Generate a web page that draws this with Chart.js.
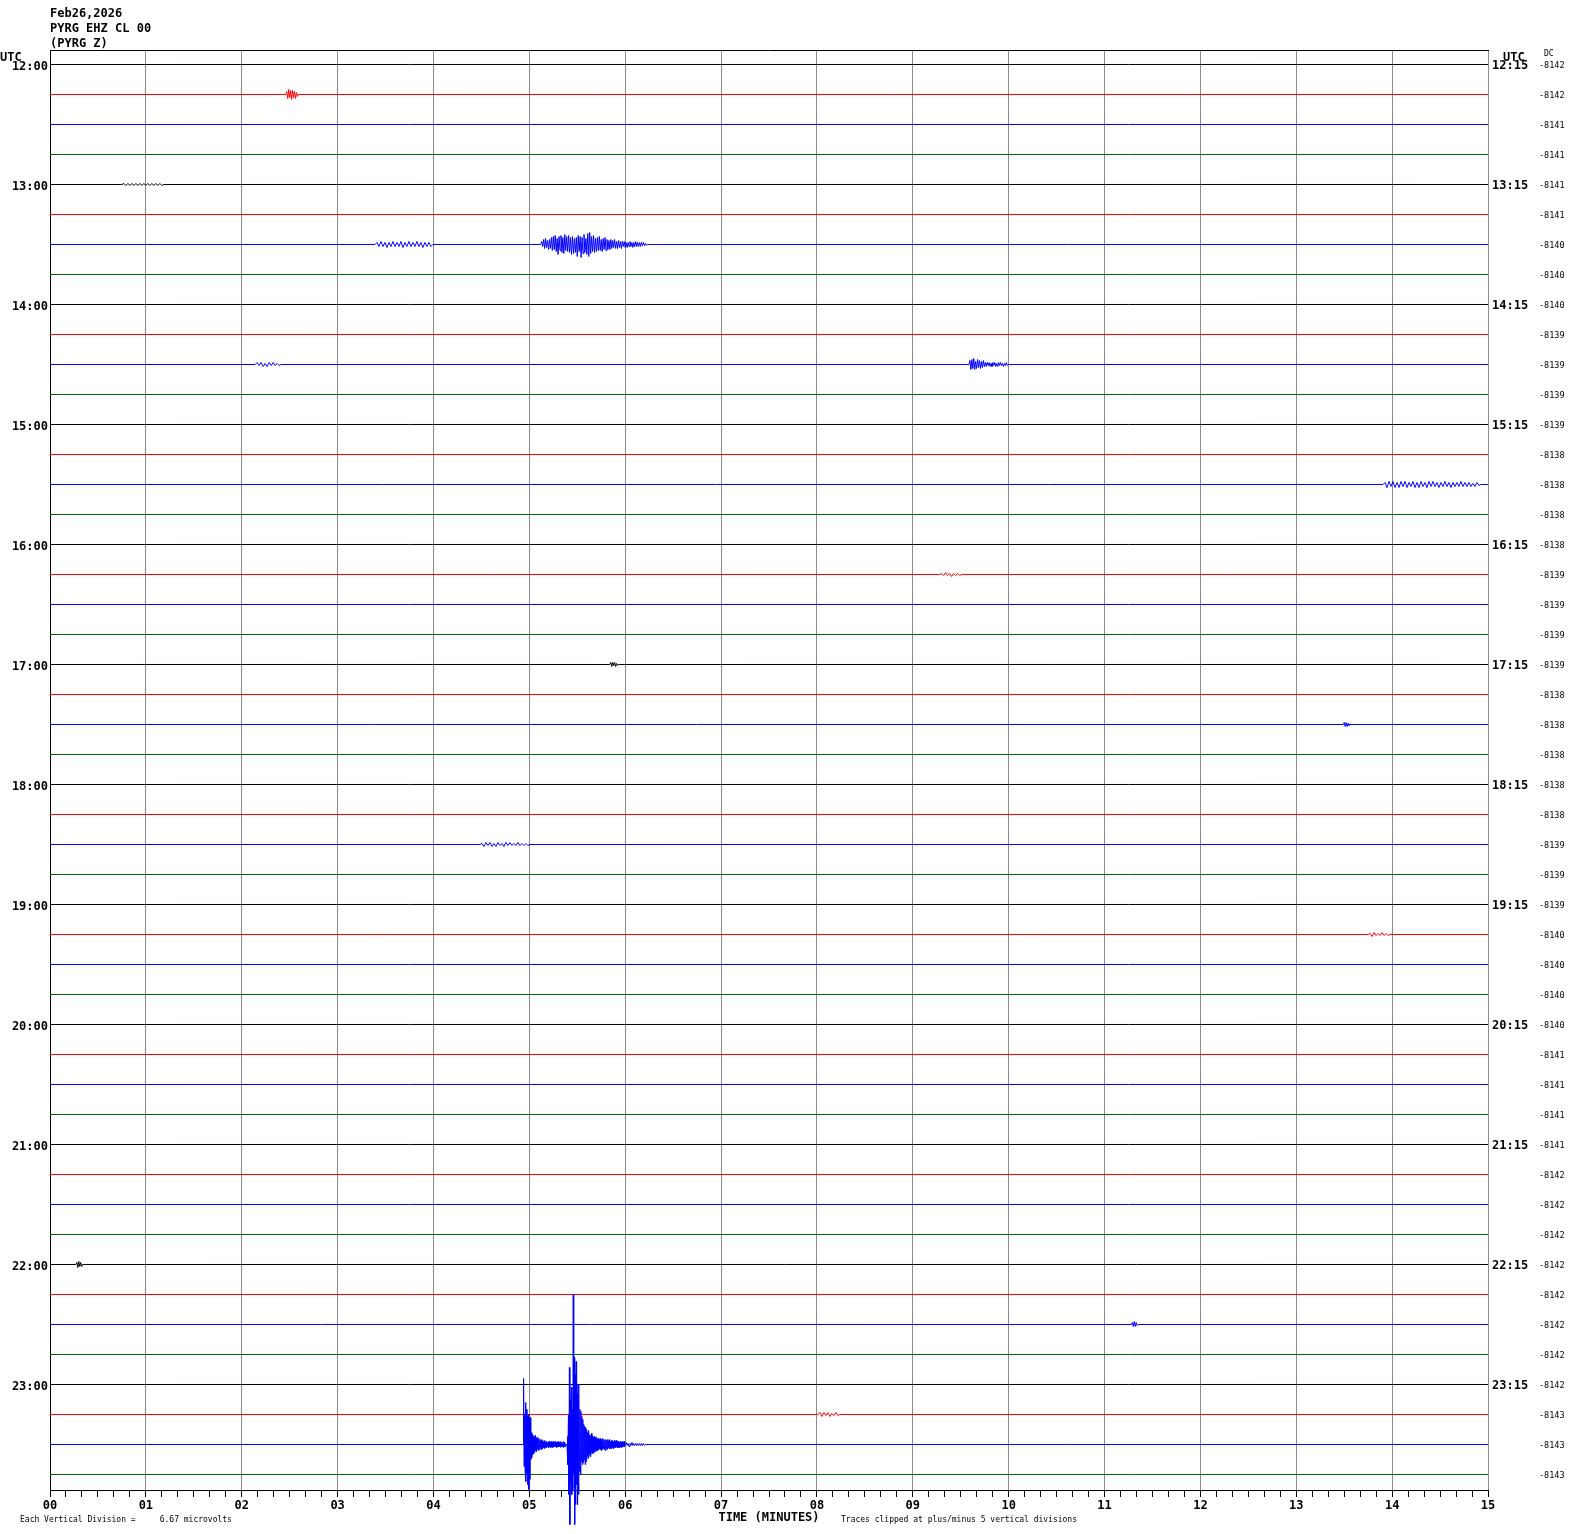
<!DOCTYPE html>
<html><head><meta charset="utf-8">
<script src="https://cdn.jsdelivr.net/npm/chart.js@4.4.1/dist/chart.umd.min.js"></script>
<style>
html,body{margin:0;padding:0;background:#fff;}
#wrap{position:relative;width:1570px;height:1534px;overflow:hidden;background:#fff;}
canvas{position:absolute;left:0;top:0;}
.t{position:absolute;font-family:'DejaVu Sans Mono',monospace;color:#000;white-space:pre;line-height:1;}
.b{font-weight:bold;font-size:12px;}
.s{font-size:8px;}
</style></head><body>
<div id="wrap">
<canvas id="c" width="1570" height="1534"></canvas>
<div class="t b" style="left:50px;top:7px">Feb26,2026</div>
<div class="t b" style="left:50px;top:22px">PYRG EHZ CL 00</div>
<div class="t b" style="left:50px;top:37px">(PYRG Z)</div>
<div class="t b" style="left:0px;top:51px">UTC</div>
<div class="t b" style="left:1503px;top:51px">UTC</div>
<div class="t s" style="left:1544px;top:50px">DC</div>
<div class="t s" style="left:20px;top:1516px">Each Vertical Division =     6.67 microvolts</div>
<div class="t s" style="left:841px;top:1516px">Traces clipped at plus/minus 5 vertical divisions</div>
</div>
<script>
// ---------------- DATA ----------------
const minuteLabels = ['00','01','02','03','04','05','06','07','08','09','10','11','12','13','14','15'];
const leftTimeLabels = ['12:00','13:00','14:00','15:00','16:00','17:00','18:00','19:00','20:00','21:00','22:00','23:00'];
const rightTimeLabels = ['12:15','13:15','14:15','15:15','16:15','17:15','18:15','19:15','20:15','21:15','22:15','23:15'];
const dcOffsets = [
  -8142,-8142,-8141,-8141, -8141,-8141,-8140,-8140, -8140,-8139,-8139,-8139,
  -8139,-8138,-8138,-8138, -8138,-8139,-8139,-8139, -8139,-8138,-8138,-8138,
  -8138,-8138,-8139,-8139, -8139,-8140,-8140,-8140, -8140,-8141,-8141,-8141,
  -8141,-8142,-8142,-8142, -8142,-8142,-8142,-8142, -8142,-8143,-8143,-8143
];
const COUNTS_PER_DIVISION = 30;
const CLIP_DIVISIONS = 5;

// event amplitudes (counts, up positive)
const ev1215 = [3,-4,5,-3,4,-5,4,-3,3,-4,2,-2];
const ev1300 = [1,-1,1,-1,1,-1,1,-1,1,-1,1,-1,1,-1,1,-1,1,-1,1,-1];
const ev1330a = [2,-2,3,-2,2,-3,2,-2,3,-2,2,-2,3,-3,2,-2,3,-2,2,-2,3,-2,2,-3,2,-2,2,-2];
const ev1330b = [
  3,-2,5,-4,6,-3,4,-5,5,-4,
  7,-6,8,-5,9,-7,6,-10,8,-6,
  9,-8,7,-9,10,-6,8,-7,9,-8,
  7,-10,8,-9,6,-8,7,-12,9,-7,
  8,-13,7,-9,10,-8,6,-10,11,-12,
  12,-9,8,-7,9,-8,6,-7,7,-6,
  8,-6,5,-7,6,-5,7,-6,5,-5,
  4,-5,5,-4,4,-3,5,-4,3,-4,
  4,-3,3,-4,3,-2,3,-3,2,-3,
  2,-2,3,-2,2,-3,2,-2,3,-2,
  2,-2,2,-2,2,-1,2,-1,1,-1
];
const ev1430a = [2,-1,2,-2,1,-2,2,-1,2,-1,1,-1];
const ev1430b = [4,-5,5,-4,6,-5,3,-4,5,-3,4,-4,3,-3,4,
  -2,2,-2,2,-1,2,-2,1,-2,2,-1,2,-2,1,-2,2,-1,2,-1,1,-2,1,-1,2,-1];
const ev1530 = [2,-3,3,-2,3,-3,2,-3,3,-2,3,-3,2,-2,3,-3,2,-3,3,-2,2,-3,3,-2,3,-2,2,-3,2,-2,3,-2,2,-3,2,-2,2,-2,3,-2,2,-2,2,-2,1,-2,2,-1];
const ev1615 = [1,-1,2,-1,1,-2,1,-1,1,-1];
const ev1700 = [2,-2,2,-1,2,-2,1,-1];
const ev1730 = [2,-2,2,-2,1,-1];
const ev1830 = [1,-2,2,-1,2,-2,1,-2,2,-1,1,-2,2,-1,2,-1,1,-1,2,-1,1,-1,1,-1];
const ev1915 = [1,-2,2,-1,1,-1,2,-1,1,-1];
const ev2200 = [2,-3,3,-2,2,-2];
const ev2230 = [2,-2,3,-2,2,-1];
const ev2315 = [2,-2,2,-1,2,-2,1,-1,2,-1];
const ev2330a = [
  66,-22,30,-25,42,-37,35,-30,28,-40,30,-45,25,-35,27,-15,12,-13,10,-10,
  8,-9,7,-8,9,-6,6,-7,7,-5,5,-6,6,-5,5,-4,4,-5,5,-4,
  4,-3,3,-4,4,-3,3,-3,3,-2,2,-3,3,-3,3,-2,2,-3,3,-2,
  2,-3,3,-2,2,-2,3,-2,2,-3,2,-2,3,-2,2,-2,2,-3,3,-2,2,-2,2,-3,3,-2,2,-2
];
const ev2330b = [
  8,-20,30,-50,77,-80,45,-40,57,-50,35,-45,150,-30,87,-80,70,-60,83,-40,
  50,-60,60,-50,47,-27,35,-30,33,-17,28,-20,25,-18,20,-15,18,-20,17,-17,
  15,-12,12,-14,14,-10,10,-12,9,-10,11,-8,8,-9,7,-8,8,-6,6,-7,
  7,-5,5,-6,6,-5,5,-4,6,-5,5,-6,4,-5,6,-4,5,-5,4,-6,
  5,-4,4,-5,5,-3,4,-4,5,-4,3,-4,4,-3,4,-4,3,-3,4,-3,
  3,-3,4,-2,3,-3,3,-3,2,-3,3,-2,2,-3,3,-2,2,-2,3,-2
];
const ev2330c = [2,-1,1,-2,1,-1,2,-1,1,-1,1,-1,1,-1,1,-1,1,-1,1,-1];

// trace index, start (minutes), sample interval (seconds), amplitudes
const events = [
  {trace:1,  start:2.46,  step:0.6,  amps:ev1215},
  {trace:4,  start:0.75,  step:1.25, amps:ev1300},
  {trace:6,  start:3.39,  step:1.25, amps:ev1330a},
  {trace:6,  start:5.12,  step:0.6,  amps:ev1330b},
  {trace:10, start:2.14,  step:1.25, amps:ev1430a},
  {trace:10, start:9.586, step:0.6,  amps:ev1430b},
  {trace:14, start:13.905,step:1.25, amps:ev1530},
  {trace:17, start:9.28,  step:1.25, amps:ev1615},
  {trace:20, start:5.84,  step:0.6,  amps:ev1700},
  {trace:22, start:13.49, step:0.6,  amps:ev1730},
  {trace:26, start:4.485, step:1.25, amps:ev1830},
  {trace:29, start:13.75, step:1.25, amps:ev1915},
  {trace:40, start:0.27,  step:0.6,  amps:ev2200},
  {trace:42, start:11.28, step:0.6,  amps:ev2230},
  {trace:45, start:8.01,  step:1.25, amps:ev2315},
  {trace:46, start:4.935, step:0.3,  amps:ev2330a},
  {trace:46, start:5.393, step:0.3,  amps:ev2330b},
  {trace:46, start:6.0,   step:0.6,  amps:ev2330c}
];

// ---------------- BUILD ----------------
const traceColors = ['#000000','#ff0000','#0000ff','#006400'];
const clipCounts = CLIP_DIVISIONS * COUNTS_PER_DIVISION;
function buildTrace(i){
  const pts = [{x:0, y:i}];
  events.filter(e => e.trace === i).sort((a,b) => a.start - b.start).forEach(e => {
    pts.push({x:e.start, y:i});
    e.amps.forEach((a,k) => {
      const c = Math.max(-clipCounts, Math.min(clipCounts, a));
      pts.push({x:e.start + (k+1)*e.step/60, y:i - c/COUNTS_PER_DIVISION});
    });
    pts.push({x:e.start + (e.amps.length+1)*e.step/60, y:i});
  });
  pts.push({x:15, y:i});
  return pts;
}
function maxAmp(i){
  let m = 0;
  events.forEach(e => { if (e.trace === i) e.amps.forEach(a => { m = Math.max(m, Math.abs(a)); }); });
  return m;
}
const datasets = dcOffsets.map((_, i) => ({
  data: buildTrace(i),
  borderColor: traceColors[i % 4],
  borderWidth: 1,
  pointRadius: 0,
  tension: 0,
  fill: false,
  clip: false,
  order: -maxAmp(i),
  xAxisID: 'x',
  yAxisID: 'y'
}));

const boldFont = {family:'DejaVu Sans Mono', size:12, weight:'bold'};
const isWhole = v => Math.abs(v - Math.round(v)) < 1e-6;
// 48 rows in a 1440px-high plot; half-pixel shift keeps each trace on a pixel row
const yRange = {min:-0.4833, max: dcOffsets.length - 0.4833, reverse:true};
const traceTicks = scale => { scale.ticks = dcOffsets.map((_, i) => ({value:i})); };

new Chart(document.getElementById('c'), {
  type: 'line',
  data: {datasets},
  options: {
    responsive: false,
    animation: false,
    events: [],
    parsing: false,
    layout: {padding: {top:50, left:0, right:0, bottom:0}},
    plugins: {legend:{display:false}, tooltip:{enabled:false}, title:{display:false}},
    scales: {
      x: {
        type:'linear', position:'bottom', min:0, max:15,
        afterBuildTicks: scale => {
          const t = [];
          for (let k = 0; k <= 90; k++) t.push({value:k/6});
          scale.ticks = t;
        },
        afterFit: scale => { scale.height = 44; },
        ticks: {
          autoSkip:false, maxRotation:0, minRotation:0, padding:2, color:'#000', font:boldFont,
          callback: v => isWhole(v) ? minuteLabels[Math.round(v)] : ''
        },
        grid: {
          drawOnChartArea:true, drawTicks:true, tickLength:7, lineWidth:1,
          color: ctx => (ctx.tick && isWhole(ctx.tick.value)) ? '#8c8c8c' : 'rgba(0,0,0,0)',
          tickColor:'#000'
        },
        border: {display:true, color:'#000', width:1},
        title: {display:true, text:'TIME (MINUTES)', color:'#000', font:boldFont, padding:{top:0, bottom:9}}
      },
      xTop: {
        type:'linear', position:'top', min:0, max:15,
        afterFit: scale => { scale.height = 0; },
        ticks: {display:false},
        grid: {display:true, drawOnChartArea:false, drawTicks:false},
        border: {display:true, color:'#000', width:1}
      },
      y: {
        type:'linear', position:'left', ...yRange,
        afterBuildTicks: traceTicks,
        afterFit: scale => { scale.width = 50; },
        ticks: {
          autoSkip:false, padding:2, labelOffset:2, color:'#000', font:boldFont,
          callback: v => (v % 4 === 0) ? leftTimeLabels[v/4] : ''
        },
        grid: {display:true, drawOnChartArea:false, drawTicks:false},
        border: {display:true, color:'#000', width:1}
      },
      yR: {
        type:'linear', position:'right', ...yRange,
        afterBuildTicks: traceTicks,
        afterFit: scale => { scale.width = 46; },
        ticks: {
          autoSkip:false, padding:4, labelOffset:1, color:'#000', font:boldFont,
          callback: v => (v % 4 === 0) ? rightTimeLabels[v/4] : ''
        },
        grid: {display:true, drawOnChartArea:false, drawTicks:false},
        border: {display:false}
      },
      yDC: {
        type:'linear', position:'right', ...yRange,
        afterBuildTicks: traceTicks,
        afterFit: scale => { scale.width = 36; },
        ticks: {
          autoSkip:false, padding:5, labelOffset:1, color:'#000',
          font:{family:'DejaVu Sans Mono', size:8.5},
          callback: v => String(dcOffsets[v])
        },
        grid: {display:true, drawOnChartArea:false, drawTicks:false},
        border: {display:false}
      }
    }
  }
});
</script>
</body></html>
